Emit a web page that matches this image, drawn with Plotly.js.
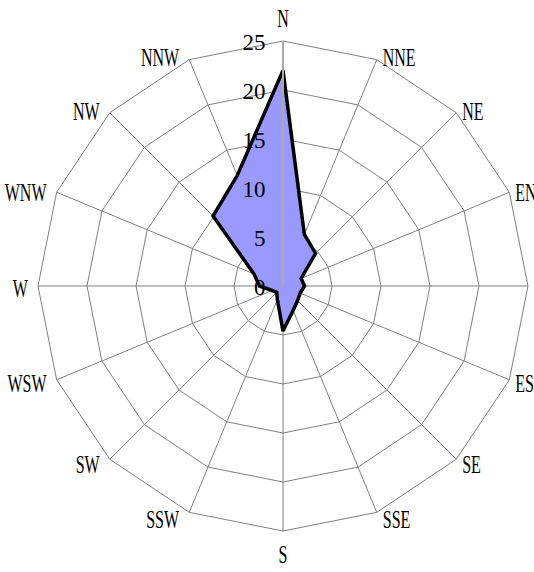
<!DOCTYPE html>
<html><head><meta charset="utf-8">
<script src="https://cdn.plot.ly/plotly-3.0.1.min.js"></script>
<style>html,body{margin:0;padding:0;background:#fff}#chart{width:534px;height:572px}</style>
</head><body><div id="chart"></div>
<script>
const directions = ["N","NNE","NE","ENE","E","ESE","SE","SSE","S","SSW","SW","WSW","W","WNW","NW","NNW"];
const frequency = [22.0,5.7,4.7,2.0,2.2,1.9,2.1,2.7,4.6,1.5,0.9,1.2,2.4,3.2,10.1,12.2];
const radialTicks = [0,5,10,15,20,25];

const FONT = "Liberation Serif, serif";
const W = 534, H = 572;
const DOM = {x:[38/534, 528/534], y:[41/572, 531/572]};
const ANG_FS = 25, RAD_FS = 23, SQUEEZE = 0.64;

const trace = {
  type: "scatterpolar",
  r: frequency.concat([frequency[0]]),
  theta: directions.concat([directions[0]]),
  mode: "lines",
  fill: "toself",
  fillcolor: "rgb(153,153,255)",
  line: {color: "#000", width: 3.5},
  hoverinfo: "none"
};
const layout = {
  width: W, height: H,
  margin: {l:0, r:0, t:0, b:0},
  paper_bgcolor: "#fff",
  showlegend: false,
  font: {family: FONT, size: 22, color: "#000"},
  polar: {
    domain: DOM,
    gridshape: "linear",
    bgcolor: "#fff",
    radialaxis: {
      range: [0,25], tickvals: radialTicks, angle: 90, tickangle: 90,
      side: "counterclockwise",
      showline: true, linecolor: "#aaa", linewidth: 2,
      gridcolor: "#808080", gridwidth: 1, ticks: "",
      tickfont: {family: FONT, size: RAD_FS, color: "#000"}
    },
    angularaxis: {
      type: "category", categoryarray: directions,
      rotation: 90, direction: "clockwise",
      gridcolor: "#808080", linecolor: "#808080", linewidth: 1,
      ticks: "", tickfont: {family: FONT, size: ANG_FS, color: "#000"}
    }
  }
};

// move a text element by (sx, sy) screen pixels, whatever its parent's rotation
function shift(t, sx, sy){
  const inv = t.parentNode.getScreenCTM().inverse();
  const dx = inv.a*sx + inv.c*sy, dy = inv.b*sx + inv.d*sy;
  const prev = t.getAttribute("transform") || "";
  t.setAttribute("transform", "translate(" + dx + "," + dy + ") " + prev);
}

Plotly.newPlot("chart", [trace], layout, {staticPlot: true}).then(function(gd){
  const host = gd.getBoundingClientRect();
  const cx0 = (DOM.x[0]+DOM.x[1])/2*W;
  const cy0 = H - (DOM.y[0]+DOM.y[1])/2*H;
  const R = (DOM.x[1]-DOM.x[0])*W/2;

  // direction labels: condensed face look, set beside each outer vertex
  gd.querySelectorAll(".angularaxistick text").forEach(function(t){
    const i = directions.indexOf(t.textContent.trim());
    if (i < 0) return;
    const b = t.getBBox();
    const c = b.x + b.width/2;
    const prev = t.getAttribute("transform") || "";
    t.setAttribute("transform", prev + " translate(" + c + ",0) scale(" + SQUEEZE + ",1) translate(" + (-c) + ",0)");
    const rc = t.getBoundingClientRect();
    const left = rc.left - host.left, top = rc.top - host.top, w = rc.width;
    const th = i * Math.PI / 8;
    const vx = cx0 + R*Math.sin(th), vy = cy0 - R*Math.cos(th);
    const capH = 0.662*ANG_FS;
    const base = top + 0.891*ANG_FS;
    let wantLeft, wantBase;
    if (i === 0 || i === 8) wantLeft = vx - w/2;
    else if (Math.sin(th) > 0) wantLeft = vx + 6;
    else wantLeft = vx - 10 - w;
    if (i === 0) wantBase = vy - 14.3;
    else if (i === 8) wantBase = vy + 15 + capH;
    else wantBase = vy + 2 - 5*Math.cos(th) + capH/2;
    shift(t, wantLeft - left, wantBase - base);
  });

  // radial tick labels: right-aligned left of the axis, centred on their ring
  gd.querySelectorAll(".polarlayer text").forEach(function(t){
    if (t.closest(".angularaxistick")) return;
    const s = t.textContent.trim();
    if (s === "" || isNaN(Number(s))) return;
    const v = Number(s);
    if (radialTicks.indexOf(v) < 0) return;
    const rc = t.getBoundingClientRect();
    const right = rc.right - host.left, top = rc.top - host.top;
    const base = top + 0.891*RAD_FS;
    const ringY = cy0 - R*v/25;
    const wantBase = ringY + 2 + 0.676*RAD_FS/2;
    shift(t, 265.5 - right, wantBase - base);
  });
});
</script></body></html>
